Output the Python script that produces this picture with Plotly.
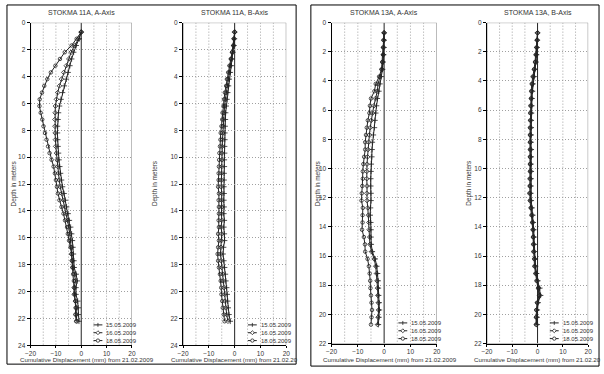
import plotly.graph_objects as go

# ---------------- data ----------------
dates = ["15.05.2009", "16.05.2009", "18.05.2009"]

depth_11a = [0.7, 1.2, 1.7, 2.2, 2.7, 3.2, 3.7, 4.2, 4.7, 5.2, 5.7, 6.2, 6.7, 7.2, 7.7,
             8.2, 8.7, 9.2, 9.7, 10.2, 10.7, 11.2, 11.7, 12.2, 12.7, 13.2, 13.7, 14.2,
             14.7, 15.2, 15.7, 16.2, 16.7, 17.2, 17.7, 18.2, 18.7, 19.2, 19.7, 20.2,
             20.7, 21.2, 21.7, 22.2]
depth_13a = [0.7, 1.2, 1.7, 2.2, 2.7, 3.2, 3.7, 4.2, 4.7, 5.2, 5.7, 6.2, 6.7, 7.2, 7.7,
             8.2, 8.7, 9.2, 9.7, 10.2, 10.7, 11.2, 11.7, 12.2, 12.7, 13.2, 13.7, 14.2,
             14.7, 15.2, 15.7, 16.2, 16.7, 17.2, 17.7, 18.2, 18.7, 19.2, 19.7, 20.2, 20.7]

a11_1505 = [0, -0.8, -2.0, -3.0, -3.8, -4.5, -5.2, -5.9, -6.7, -7.4, -8.0, -8.6, -9.0, -9.2,
            -9.4, -9.4, -9.3, -9.2, -9.0, -8.8, -8.5, -8.2, -7.8, -7.4, -6.8, -6.3, -5.8,
            -5.2, -4.7, -4.2, -3.8, -3.5, -3.3, -3.1, -2.9, -2.8, -2.0, -1.6, -2.1, -2.1,
            -1.4, -1.2, -1.2, -0.9]
a11_1605 = [0, -1.0, -2.6, -4.0, -4.9, -5.9, -6.9, -7.8, -8.6, -9.3, -9.8, -10.2, -10.3,
            -10.4, -10.4, -10.3, -10.2, -10.1, -9.8, -9.5, -9.3, -9.0, -8.7, -8.3, -7.7,
            -7.0, -6.4, -5.9, -5.3, -4.9, -4.5, -4.2, -3.9, -3.8, -3.5, -3.3, -2.6, -2.3,
            -2.8, -2.8, -2.3, -1.9, -2.0, -1.7]
a11_1805 = [0, -1.8, -3.8, -6.5, -8.4, -10.2, -12.0, -13.4, -14.6, -15.5, -16.4, -16.5,
            -16.0, -15.4, -14.9, -14.3, -13.7, -13.1, -12.5, -11.7, -10.9, -10.4, -10.0,
            -9.6, -9.2, -8.6, -7.8, -7.0, -6.4, -5.6, -5.3, -4.8, -4.2, -3.8, -3.7, -3.5,
            -3.2, -2.9, -2.7, -2.6, -2.3, -2.2, -2.3, -2.0]

b11_1505 = [0, -0.1, -0.3, -0.7, -1.0, -1.3, -1.7, -2.1, -2.4, -2.7, -3.0, -3.3, -3.5, -3.6,
            -3.7, -3.8, -3.8, -3.9, -3.9, -4.0, -4.0, -4.1, -4.1, -4.2, -4.1, -4.2, -4.1,
            -4.2, -4.0, -4.2, -4.0, -3.9, -4.3, -4.5, -4.2, -3.9, -3.6, -3.4, -3.1, -2.9,
            -2.7, -2.5, -2.2, -1.7]
b11_1605 = [0, -0.2, -0.4, -0.9, -1.3, -1.7, -2.1, -2.6, -2.9, -3.3, -3.6, -3.9, -4.1, -4.3,
            -4.5, -4.6, -4.7, -4.8, -4.9, -4.9, -5.0, -5.1, -5.1, -5.2, -5.0, -5.1, -5.0,
            -5.1, -5.0, -5.2, -5.0, -5.1, -5.3, -5.5, -5.2, -5.0, -4.6, -4.4, -4.1, -3.9,
            -3.7, -3.5, -3.1, -2.6]
b11_1805 = [0, -0.3, -0.5, -1.0, -1.5, -2.0, -2.5, -3.0, -3.3, -3.8, -4.1, -4.3, -4.7, -4.8,
            -5.1, -5.4, -5.5, -5.7, -5.9, -6.0, -6.1, -6.2, -6.2, -6.4, -6.1, -6.2, -6.1,
            -6.1, -6.2, -6.1, -6.4, -6.1, -6.4, -6.6, -6.4, -6.1, -5.7, -5.4, -5.2, -5.1,
            -4.8, -4.6, -4.2, -3.9]

a13_1505 = [0, 0, -0.1, -0.2, -0.4, -0.6, -1.1, -1.6, -2.0, -2.6, -2.9, -3.2, -3.5, -3.7,
            -4.1, -4.5, -4.6, -4.7, -4.9, -5.0, -5.1, -5.1, -5.0, -5.0, -5.2, -5.3, -5.1,
            -5.0, -5.0, -4.9, -4.5, -3.4, -2.8, -2.5, -2.3, -2.2, -2.1, -1.9, -1.8, -2.0, -2.2]
a13_1605 = [0, -0.1, -0.2, -0.3, -0.5, -0.8, -1.5, -2.3, -2.6, -3.3, -3.9, -4.4, -4.9, -5.3,
            -5.6, -5.9, -6.1, -6.3, -6.5, -6.6, -6.6, -6.5, -6.6, -6.5, -6.2, -6.0, -5.8,
            -5.7, -5.5, -5.4, -4.8, -3.8, -3.2, -2.9, -2.7, -2.5, -2.4, -2.2, -2.1, -2.3, -2.5]
a13_1805 = [0, -0.2, -0.4, -0.4, -0.7, -1.0, -1.9, -3.2, -3.7, -5.0, -5.4, -5.6, -6.2, -6.6,
            -6.9, -7.2, -7.2, -7.6, -7.9, -8.1, -8.1, -8.3, -8.5, -8.6, -8.1, -8.2, -8.2,
            -8.4, -7.7, -7.3, -7.2, -6.3, -5.8, -5.5, -5.3, -5.2, -5.0, -4.8, -4.6, -4.8, -5.0]

b13_1505 = [0, -0.1, -0.2, -0.4, -0.6, -1.0, -1.4, -1.8, -2.0, -2.2, -2.3, -2.4, -2.5, -2.5,
            -2.5, -2.6, -2.5, -2.5, -2.6, -2.5, -2.6, -2.6, -2.7, -2.5, -2.2, -1.9, -1.7,
            -1.5, -1.4, -1.3, -1.2, -0.9, -0.8, -0.4, 0.1, 0.9, 1.2, 0.2, -0.1, -0.2, -0.2]
b13_1605 = [0, -0.1, -0.3, -0.5, -0.8, -1.2, -1.6, -2.0, -2.2, -2.4, -2.5, -2.6, -2.7, -2.7,
            -2.8, -2.8, -2.7, -2.8, -2.8, -2.7, -2.8, -2.9, -2.9, -2.8, -2.5, -2.1, -1.9,
            -1.7, -1.6, -1.5, -1.4, -1.1, -1.0, -0.6, -0.1, 0.5, 0.9, 0.0, -0.3, -0.4, -0.4]
b13_1805 = [0, -0.2, -0.4, -0.7, -1.0, -1.4, -1.9, -2.3, -2.5, -2.6, -2.8, -2.9, -2.9, -3.0,
            -3.0, -3.0, -3.0, -3.0, -3.0, -3.0, -3.1, -3.1, -3.2, -3.0, -2.7, -2.4, -2.1,
            -1.9, -1.8, -1.7, -1.6, -1.3, -1.2, -0.8, -0.4, 0.2, 0.6, -0.2, -0.5, -0.6, -0.6]

titles = ["STOKMA 11A, A-Axis", "STOKMA 11A, B-Axis", "STOKMA 13A, A-Axis", "STOKMA 13A, B-Axis"]
x_title_full = "Cumulative Displacement (mm) from 21.02.2009"
x_title_cut = "Cumulative Displacement (mm) from 21.02.20"
y_title = "Depth in meters"
x_ticks = [-20, -10, 0, 10, 20]

panels = [
    (depth_11a, [a11_1505, a11_1605, a11_1805], 24),
    (depth_11a, [b11_1505, b11_1605, b11_1805], 24),
    (depth_13a, [a13_1505, a13_1605, a13_1805], 22),
    (depth_13a, [b13_1505, b13_1605, b13_1805], 22),
]

# ---------------- layout geometry (pixels) ----------------
W, H = 604, 374
plot_px = [(25, 128, 19, 348), (180, 285, 19, 348), (331, 438, 19, 346), (489, 592, 19, 346)]
ytitle_x = [8, 151, 317, 470]
xtitle_text = [x_title_full, x_title_cut, x_title_full, x_title_cut]
xtitle_left = [12, 166, 320, 474]
xtitle_y = [362, 362, 362, 362]

symbols = ["cross-thin-open", "diamond-open", "circle-open"]
sizes = [4, 3.5, 3.5]
FONT = "Liberation Sans, Arial, sans-serif"
TXT = "#333"
GRID = "#a0a0a0"
LINE = "#222"


def px(x):
    return x / W


def py(y):
    return 1 - y / H


fig = go.Figure()
shapes = []

for i, (depth, series, ymax) in enumerate(panels):
    xa = "x" if i == 0 else f"x{i+1}"
    ya = "y" if i == 0 else f"y{i+1}"
    for j, vals in enumerate(series):
        fig.add_trace(go.Scatter(
            x=vals, y=depth, mode="lines+markers", name=dates[j],
            xaxis=xa, yaxis=ya, showlegend=False,
            line=dict(color=LINE, width=1),
            marker=dict(symbol=symbols[j], size=sizes[j], color=LINE,
                        line=dict(color=LINE, width=0.8)),
        ))
    x0, x1, y0, y1 = plot_px[i]
    xkey = "xaxis" if i == 0 else f"xaxis{i+1}"
    ykey = "yaxis" if i == 0 else f"yaxis{i+1}"
    fig.layout[xkey] = dict(
        domain=[px(x0), px(x1)], anchor=ya, range=[-20, 20],
        tickvals=x_ticks, ticks="outside", ticklen=2, tickcolor="black",
        tickfont=dict(size=6.5, color=TXT, family=FONT),
        showgrid=False, zeroline=False,
        showline=True, linecolor="black", linewidth=1, fixedrange=True,
    )
    fig.layout[ykey] = dict(
        domain=[py(y1), py(y0)], anchor=xa, range=[ymax, 0],
        tickvals=list(range(0, ymax + 1, 2)), ticks="outside", ticklen=3, tickcolor="black",
        tickfont=dict(size=6.5, color=TXT, family=FONT),
        showgrid=True, gridcolor=GRID, griddash="1px,2px", gridwidth=1,
        zeroline=False, showline=True, linecolor="black", linewidth=1, fixedrange=True,
    )
    # vertical dotted grid every 5 mm
    for gx in [-15, -10, -5, 5, 10, 15]:
        shapes.append(dict(type="line", xref=xa, yref=ya, x0=gx, x1=gx, y0=0, y1=ymax,
                           line=dict(color=GRID, width=1, dash="1px,2px"), layer="below"))
    # solid zero line
    shapes.append(dict(type="line", xref=xa, yref=ya, x0=0, x1=0, y0=0, y1=ymax,
                       line=dict(color="#222", width=1), layer="below"))
    # frame right / top
    shapes.append(dict(type="rect", xref=xa, yref=ya, x0=-20, x1=20, y0=0, y1=ymax,
                       line=dict(color="#888", width=1), layer="below"))
    # titles
    fig.add_annotation(text=titles[i], x=px((x0 + x1) / 2), y=py(9), xref="paper", yref="paper",
                       showarrow=False, font=dict(size=7, color=TXT, family=FONT),
                       xanchor="center", yanchor="middle")
    fig.add_annotation(text=xtitle_text[i], x=px(xtitle_left[i]), y=py(xtitle_y[i]),
                       xref="paper", yref="paper", showarrow=False,
                       font=dict(size=6.2, color=TXT, family=FONT),
                       xanchor="left", yanchor="middle")
    fig.add_annotation(text=y_title, x=px(ytitle_x[i]), y=py(183), xref="paper", yref="paper",
                       showarrow=False, textangle=-90, font=dict(size=6.4, color=TXT, family=FONT),
                       xanchor="center", yanchor="middle")
    # compact legend (bottom-right of each plot)
    for j in range(3):
        ly = y1 - 21 + 8 * j
        lx0, lx1 = x1 - 39, x1 - 30
        cx = (lx0 + lx1) / 2
        shapes.append(dict(type="line", xref="paper", yref="paper", x0=px(lx0), x1=px(lx1),
                           y0=py(ly), y1=py(ly), line=dict(color=LINE, width=1)))
        if symbols[j] == "circle-open":
            shapes.append(dict(type="circle", xref="paper", yref="paper",
                               x0=px(cx - 1.7), x1=px(cx + 1.7), y0=py(ly + 1.7), y1=py(ly - 1.7),
                               line=dict(color=LINE, width=0.8), fillcolor="white"))
        elif symbols[j] == "diamond-open":
            shapes.append(dict(type="path", xref="paper", yref="paper",
                               path=f"M {px(cx)} {py(ly-2)} L {px(cx+2)} {py(ly)} L {px(cx)} {py(ly+2)} L {px(cx-2)} {py(ly)} Z",
                               line=dict(color=LINE, width=0.8), fillcolor="white"))
        else:
            shapes.append(dict(type="line", xref="paper", yref="paper", x0=px(cx), x1=px(cx),
                               y0=py(ly - 2), y1=py(ly + 2), line=dict(color=LINE, width=0.8)))
        fig.add_annotation(text=dates[j], x=px(x1 - 28), y=py(ly), xref="paper", yref="paper",
                           showarrow=False, font=dict(size=6, color=TXT, family=FONT),
                           xanchor="left", yanchor="middle")

# outer boxes
shapes.append(dict(type="rect", xref="paper", yref="paper", x0=px(1), x1=px(295),
                   y0=py(367), y1=py(1), line=dict(color="black", width=1)))
shapes.append(dict(type="rect", xref="paper", yref="paper", x0=px(310), x1=px(603),
                   y0=py(369), y1=py(1), line=dict(color="black", width=1)))

fig.update_layout(
    width=W, height=H, margin=dict(l=0, r=0, t=0, b=0),
    paper_bgcolor="white", plot_bgcolor="white", showlegend=False,
    font=dict(family=FONT, color=TXT), shapes=shapes,
)

fig.write_html("out.html", config={"displayModeBar": False},
               post_script="document.body.style.margin='0px';document.body.style.padding='0px';")
